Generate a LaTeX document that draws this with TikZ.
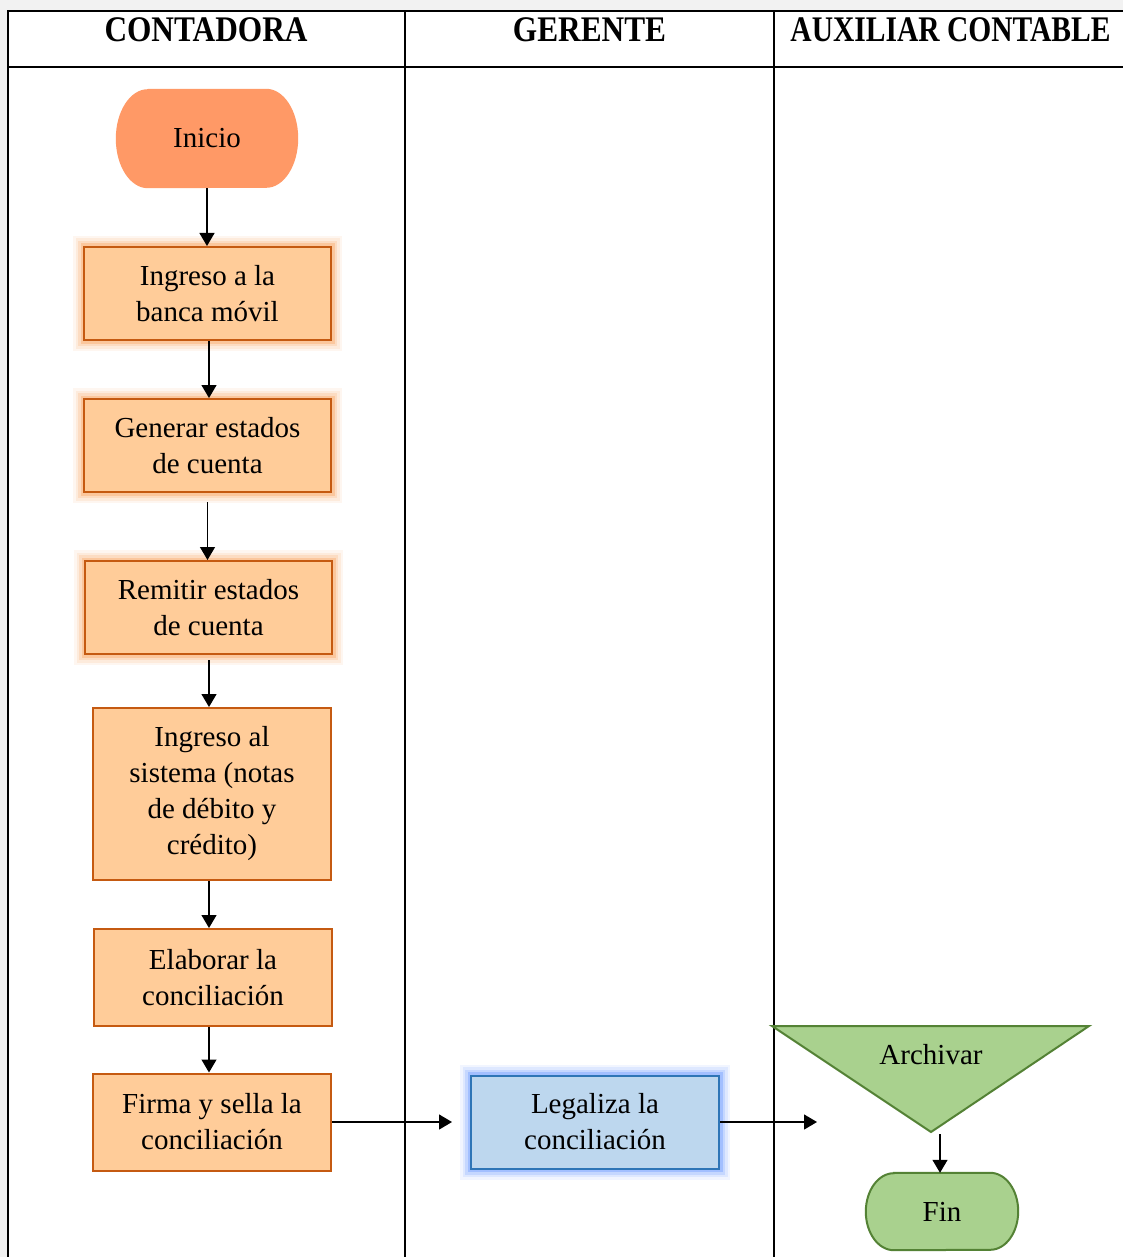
\documentclass[tikz,border=0pt]{standalone}
\usepackage{fontspec}
\usepackage{graphicx}
\setmainfont{Liberation Serif}
\usetikzlibrary{arrows.meta}
\definecolor{bggray}{RGB}{242,242,242}
\definecolor{startfill}{RGB}{255,153,102}
\definecolor{boxfill}{RGB}{255,204,153}
\definecolor{boxline}{RGB}{197,90,17}
\definecolor{glowor}{RGB}{250,140,50}
\definecolor{bluefill}{RGB}{189,215,238}
\definecolor{blueline}{RGB}{46,117,182}
\definecolor{glowbl}{RGB}{60,120,255}
\definecolor{greenfill}{RGB}{169,209,142}
\definecolor{greenline}{RGB}{84,130,53}
\begin{document}
\begin{tikzpicture}[x=1pt,y=-1pt,
  txt/.style={align=center, font=\fontsize{29}{36}\selectfont, inner sep=0pt, text=black},
  head/.style={anchor=base, inner sep=0pt, font=\fontsize{36}{40}\selectfont\bfseries},
  proc/.style={txt, draw=boxline, fill=boxfill, line width=2pt},
  orglow/.style={preaction={draw=glowor, line width=22pt, opacity=0.07},
                 preaction={draw=glowor, line width=17pt, opacity=0.1},
                 preaction={draw=glowor, line width=12pt, opacity=0.15},
                 preaction={draw=glowor, line width=7pt, opacity=0.25}},
  blglow/.style={preaction={draw=glowbl, line width=22pt, opacity=0.07},
                 preaction={draw=glowbl, line width=17pt, opacity=0.1},
                 preaction={draw=glowbl, line width=12pt, opacity=0.15},
                 preaction={draw=glowbl, line width=7pt, opacity=0.25}},
  arr/.style={-{Triangle[length=13pt,width=15pt]}, line width=1.3pt, draw=black},
  lane/.style={line width=2pt, draw=black}
]
\useasboundingbox (0,0) rectangle (1123,1257);
\fill[bggray] (0,0) rectangle (1123,1257);
\fill[white] (8,11) rectangle (1123,1257);
% table
\draw[lane] (8,1257) -- (8,11) -- (1123,11);
\draw[lane] (8,67) -- (1123,67);
\draw[lane] (405,11) -- (405,1257);
\draw[lane] (774,11) -- (774,1257);
\node[head] (h1) at (206,42) {\scalebox{0.87}[1]{CONTADORA}};
\node[head] (h2) at (589.5,42) {\scalebox{0.87}[1]{GERENTE}};
\node[head] (h3) at (950.5,42) {\scalebox{0.82}[1]{AUXILIAR CONTABLE}};
% start terminator
\node[txt, minimum width=182pt, minimum height=99pt] (inicio) at (207,138.5) {};
\fill[startfill] ([xshift=32pt]inicio.north west) -- ([xshift=-32pt]inicio.north east)
  arc[start angle=90, end angle=-90, x radius=32pt, y radius=49.5pt]
  -- ([xshift=32pt]inicio.south west)
  arc[start angle=270, end angle=90, x radius=32pt, y radius=49.5pt] -- cycle;
\node[txt] (iniciotxt) at (inicio) {Inicio};
% process boxes
\node[proc, orglow, minimum width=247pt, minimum height=93pt] (b1) at (207.5,293.5) {Ingreso a la\\banca móvil};
\node[proc, orglow, minimum width=247pt, minimum height=93pt] (b2) at (207.5,445.5) {Generar estados\\de cuenta};
\node[proc, orglow, minimum width=247pt, minimum height=93pt] (b3) at (208.5,607.5) {Remitir estados\\de cuenta};
\node[proc, minimum width=238pt, minimum height=172pt] (b4) at (212,794) {Ingreso al\\sistema (notas\\de débito y\\crédito)};
\node[proc, minimum width=238pt, minimum height=97pt] (b5) at (213,977.5) {Elaborar la\\conciliación};
\node[proc, minimum width=238pt, minimum height=97pt] (b6) at (212,1122) {Firma y sella la\\conciliación};
\node[txt, draw=blueline, fill=bluefill, line width=2pt, blglow, minimum width=248pt, minimum height=93pt] (legal) at (595,1122) {Legaliza la\\conciliación};
% archive triangle
\filldraw[fill=greenfill, draw=greenline, line width=2pt] (772,1026) -- (1089,1026) -- (931,1132) -- cycle;
\node[txt] (archivar) at (931,1055) {Archivar};
\coordinate (archtip) at (940,1134);
\coordinate (archin) at (817,1122);
% end terminator
\node[txt, minimum width=152pt, minimum height=77pt] (fin) at (942,1211.5) {};
\filldraw[fill=greenfill, draw=greenline, line width=2pt]
  ([xshift=28pt]fin.north west) -- ([xshift=-28pt]fin.north east)
  arc[start angle=90, end angle=-90, x radius=28pt, y radius=38.5pt]
  -- ([xshift=28pt]fin.south west)
  arc[start angle=270, end angle=90, x radius=28pt, y radius=38.5pt] -- cycle;
\node[txt] (fintxt) at (fin) {Fin};
% connectors
\draw[arr] (inicio.south) -- (inicio.south |- b1.north);
\draw[arr] ([xshift=1.5pt]b1.south) -- ([xshift=1.5pt]b2.north);
\draw[arr, shorten <=9pt] (b2.south) -- (b2.south |- b3.north);
\draw[arr, shorten <=5pt] ([xshift=0.5pt]b3.south) -- ([xshift=0.5pt]b3.south |- b4.north);
\draw[arr] ([xshift=-3pt]b4.south) -- ([xshift=-3pt]b4.south |- b5.north);
\draw[arr] ([xshift=-4pt]b5.south) -- ([xshift=-4pt]b5.south |- b6.north);
\draw[arr, shorten >=18pt] (b6.east) -- (b6.east -| legal.west);
\draw[arr] (legal.east) -- (archin);
\draw[arr] (archtip) -- (archtip |- fin.north);
\end{tikzpicture}
\end{document}
